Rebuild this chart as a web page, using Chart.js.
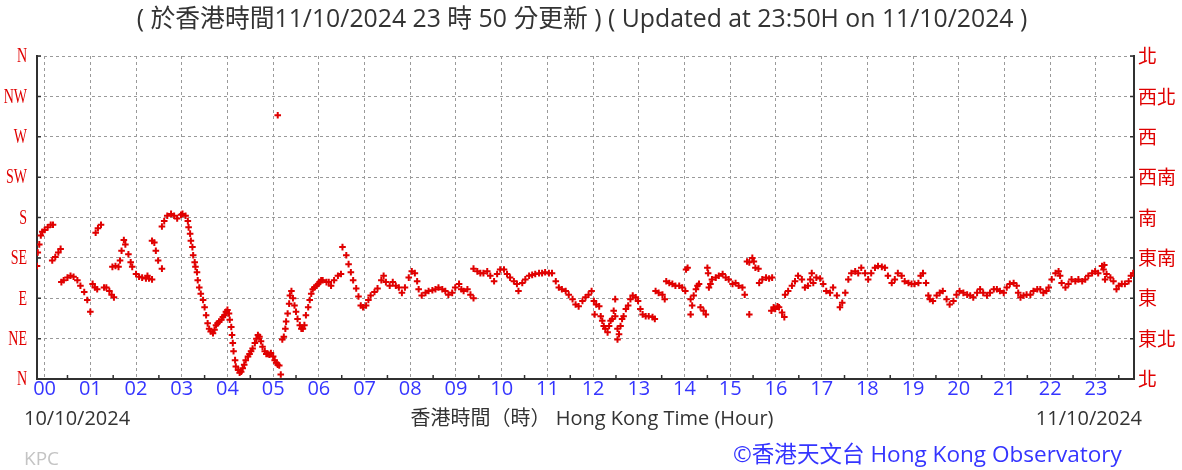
<!DOCTYPE html>
<html>
<head>
<meta charset="utf-8">
<script src="https://cdn.jsdelivr.net/npm/chart.js@4.4.1/dist/chart.umd.min.js"></script>
<style>
  html, body { margin: 0; padding: 0; background: #fff; }
  #wrap { width: 1182px; height: 470px; position: relative; }
</style>
</head>
<body>
<div id="wrap"><canvas id="c"></canvas></div>
<script>
const hourLabels = ['00','01','02','03','04','05','06','07','08','09','10','11',
  '12','13','14','15','16','17','18','19','20','21','22','23'];
const dirLabelsEn = ['N','NE','E','SE','S','SW','W','NW','N'];
const dirLabelsZh = ['北','東北','東','東南','南','西南','西','西北','北'];

// minutes after 00:00 on 10/10/2024
const minutes = [
  -10,-9,-7,-5,-3,0,4,8,11,
  10,14,18,21,
  22,25,30,34,38,43,47,52,56,60,
  63,66,69,
  67,70,74,
  78,81,85,88,91,
  89,93,97,99,101,104,106,110,113,115,120,124,128,133,135,137,141,
  141,144,146,149,154,
  154,157,161,166,170,174,179,181,185,188,189,191,192,194,195,197,198,200,201,203,205,208,
  210,212,214,216,218,221,223,225,227,229,232,234,236,238,240,242,243,245,246,247,248,250,
  251,254,256,258,260,262,264,267,269,271,273,276,278,280,282,284,286,289,291,293,295,297,
  300,302,304,306,308,310,
  306,
  312,314,316,317,319,321,322,324,326,328,330,332,335,337,339,341,343,346,348,350,352,354,
  357,359,361,363,365,370,373,376,380,385,389,
  391,396,399,402,405,409,412,415,418,422,425,428,433,437,442,445,448,453,457,461,465,
  469,473,478,482,486,489,491,495,500,504,509,513,517,522,526,530,535,539,544,547,550,555,559,563,
  563,568,572,576,581,585,590,594,598,603,607,611,616,620,622,627,631,636,640,644,649,653,657,
  662,666,671,675,679,684,688,693,697,701,706,710,714,718,
  721,724,728,730,732,734,736,739,741,743,745,749,752,754,756,758,760,763,766,769,772,776,779,
  782,785,789,793,798,801,
  722,749,747,752,
  802,806,811,814,
  816,820,824,828,833,837,841,
  844,842,
  848,850,852,855,857,859,848,861,865,868,
  870,871,
  872,874,876,881,885,890,894,898,903,907,911,916,919,
  922,925,929,931,933,937,925,
  938,942,947,951,955,
  954,957,959,962,964,968,971,
  972,976,981,985,989,994,998,1002,1005,1007,1009,1013,1018,1022,1026,1031,1035,1040,1044,1047,
  1051,1055,1059,1064,1068,1072,1077,1081,1085,1090,1094,1099,1103,1107,1112,1116,1120,1125,
  1129,1134,1138,1142,1147,1150,1153,1157,1160,1162,1166,1171,1175,1179,1184,1188,1193,1197,1201,
  1206,1211,1215,1219,1224,1228,1232,1237,1241,1246,1250,1254,1259,1263,1267,1272,1276,1278,
  1281,1285,1289,1294,1298,1303,1307,1311,1315,1318,1322,1327,1331,1333,1335,1340,1344,1348,
  1353,1357,1362,1366,1370,1375,1379,1383,1388,1390,1391,1392,1394,1399,1403,1407,1410,1414,
  1418,1423,1426,1429
];

// wind direction in degrees
const direction = [
  126,141,150,160,164,166,169,172,172,
  132,136,141,145,
  108,110,113,115,114,110,104,97,88,75,
  106,102,100,
  163,168,172,
  102,102,98,94,91,
  125,126,125,132,143,155,150,139,130,125,117,114,113,112,115,112,111,
  154,152,143,132,123,
  170,176,182,184,182,179,183,184,182,176,169,162,154,147,138,130,125,119,110,102,95,88,
  80,71,62,56,53,51,55,60,62,64,66,69,71,75,77,73,66,58,49,40,31,21,
  14,10,7,8,12,16,21,25,28,31,34,40,45,49,47,42,36,31,28,28,27,29,
  25,21,18,16,15,5,
  294,
  44,47,56,64,73,84,93,98,90,82,75,67,60,56,56,60,71,80,88,95,100,102,
  104,106,108,110,110,108,108,104,110,115,117,
  147,138,128,119,110,101,92,82,80,82,88,93,97,101,110,115,108,104,108,104,102,
  96,102,113,120,118,109,100,93,96,98,99,100,102,100,98,94,96,102,106,100,98,100,94,90,
  123,120,118,118,120,115,109,117,122,122,117,113,109,106,98,107,111,115,116,117,118,118,119,
  118,118,109,102,100,98,94,89,83,81,87,91,94,98,
  87,83,81,70,65,59,56,52,59,65,67,70,56,50,59,67,70,78,82,89,93,91,87,
  78,72,70,70,69,67,
  72,89,76,44,
  98,96,94,89,
  109,107,106,104,104,102,98,
  124,122,
  89,82,93,100,104,106,72,80,76,72,
  124,118,
  102,106,111,113,115,117,113,111,106,107,104,102,94,
  131,130,135,131,124,123,72,
  107,111,113,112,113,
  76,80,78,81,80,74,69,
  94,98,104,109,115,111,102,104,111,118,107,113,112,106,98,96,102,93,80,85,
  96,111,118,120,118,124,118,111,118,124,126,125,124,115,107,111,118,115,
  109,107,106,106,107,115,118,107,93,89,87,93,96,98,89,83,87,94,98,
  96,94,93,91,96,100,96,93,96,100,100,98,96,102,106,107,104,96,
  91,93,94,94,98,100,100,96,98,102,111,118,120,115,107,102,106,111,
  109,111,109,111,115,118,120,118,126,122,127,111,117,113,109,100,104,106,
  106,109,115,118
];

const RED = '#e00000';
const BLUE = '#3535ff';
const GRID = '#9a9a9a';
const AXIS = '#303030';
const TEXT = '#333333';
const SANS = '"Open Sans", "Noto Sans CJK TC", sans-serif';

// draw text scaled so it covers the given width
function fitText(ctx, text, x, y, width, align) {
  ctx.font = '20px ' + SANS;
  const size = 20 * width / ctx.measureText(text).width;
  ctx.font = size.toFixed(2) + 'px ' + SANS;
  ctx.textAlign = align;
  ctx.fillText(text, x, y);
}

const decor = {
  id: 'decor',
  afterDraw(chart) {
    const ctx = chart.ctx;
    const area = chart.chartArea;
    const xs = chart.scales.x;
    const ys = chart.scales.y;
    ctx.save();
    // minor half-hour ticks on the time axis
    ctx.strokeStyle = AXIS;
    ctx.lineWidth = 1.5;
    hourLabels.forEach((h, i) => {
      const px = xs.getPixelForValue(i * 60 + 30);
      if (px < area.right) {
        ctx.beginPath();
        ctx.moveTo(px, area.bottom);
        ctx.lineTo(px, area.bottom - 4);
        ctx.stroke();
      }
    });
    // inner ticks on the direction axes
    dirLabelsEn.forEach((d, i) => {
      const py = ys.getPixelForValue(i * 45);
      ctx.beginPath();
      ctx.moveTo(area.left, py);
      ctx.lineTo(area.left + 4, py);
      ctx.moveTo(area.right, py);
      ctx.lineTo(area.right - 4, py);
      ctx.stroke();
    });

    // condensed serif labels on the left axis
    ctx.fillStyle = RED;
    ctx.textBaseline = 'middle';
    ctx.textAlign = 'right';
    ctx.font = '20px "Liberation Serif", serif';
    dirLabelsEn.forEach((d, i) => {
      const py = ys.getPixelForValue(i * 45);
      ctx.save();
      ctx.translate(area.left - 10, py + 1);
      ctx.scale(0.7, 1);
      ctx.fillText(d, 0, 0);
      ctx.restore();
    });

    ctx.fillStyle = TEXT;
    fitText(ctx, '( 於香港時間11/10/2024 23 時 50 分更新 ) ( Updated at 23:50H on 11/10/2024 )',
      582, 20, 891, 'center');

    ctx.font = '20px ' + SANS;
    ctx.textAlign = 'center';
    ctx.fillText('香港時間（時） Hong Kong Time (Hour)', 592, area.bottom + 40);
    ctx.textAlign = 'left';
    ctx.fillText('10/10/2024', 24, area.bottom + 40);
    ctx.textAlign = 'right';
    ctx.fillText('11/10/2024', 1142, area.bottom + 40);

    ctx.fillStyle = BLUE;
    fitText(ctx, '©香港天文台 Hong Kong Observatory', 733, area.bottom + 77, 389, 'left');

    ctx.fillStyle = '#c4c4c4';
    ctx.font = '19px ' + SANS;
    ctx.textAlign = 'left';
    ctx.fillText('KPC', 24, area.bottom + 81);
    ctx.restore();
  }
};

const points = minutes.map((m, i) => ({ x: m, y: direction[i] }));

new Chart(document.getElementById('c'), {
  type: 'scatter',
  data: {
    datasets: [{
      data: points,
      pointStyle: 'cross',
      pointRadius: 3.3,
      pointBorderWidth: 2,
      borderColor: RED,
      backgroundColor: RED,
      showLine: false
    }]
  },
  options: {
    responsive: true,
    maintainAspectRatio: false,
    animation: false,
    layout: { padding: { top: 56, left: 0, right: 0, bottom: 0 } },
    plugins: { legend: { display: false }, tooltip: { enabled: false }, title: { display: false } },
    scales: {
      x: {
        type: 'linear',
        min: -10,
        max: 1430,
        afterBuildTicks: s => { s.ticks = hourLabels.map((h, i) => ({ value: i * 60 })); },
        afterFit: s => { s.height = 91; },
        ticks: {
          autoSkip: false,
          maxRotation: 0,
          padding: 0,
          color: BLUE,
          font: { family: SANS, size: 20, lineHeight: 1 },
          callback: v => hourLabels[Math.round(v / 60)]
        },
        grid: { color: GRID, lineWidth: 1, drawTicks: false },
        border: { display: true, color: AXIS, width: 2, dash: [3, 3] }
      },
      y: {
        position: 'left',
        min: 0,
        max: 360,
        afterBuildTicks: s => { s.ticks = dirLabelsEn.map((d, i) => ({ value: i * 45 })); },
        afterFit: s => { s.width = 37; },
        ticks: { display: false },
        grid: { color: GRID, lineWidth: 1, drawTicks: false },
        border: { display: true, color: AXIS, width: 2, dash: [3, 3] }
      },
      y2: {
        position: 'right',
        min: 0,
        max: 360,
        afterBuildTicks: s => { s.ticks = dirLabelsZh.map((d, i) => ({ value: i * 45 })); },
        afterFit: s => { s.width = 48; },
        ticks: {
          padding: 4,
          color: RED,
          font: { family: '"Noto Sans CJK TC", sans-serif', size: 19 },
          callback: v => dirLabelsZh[Math.round(v / 45)]
        },
        grid: { display: false, drawTicks: false },
        border: { display: true, color: AXIS, width: 2 }
      }
    }
  },
  plugins: [decor]
});
</script>
</body>
</html>
